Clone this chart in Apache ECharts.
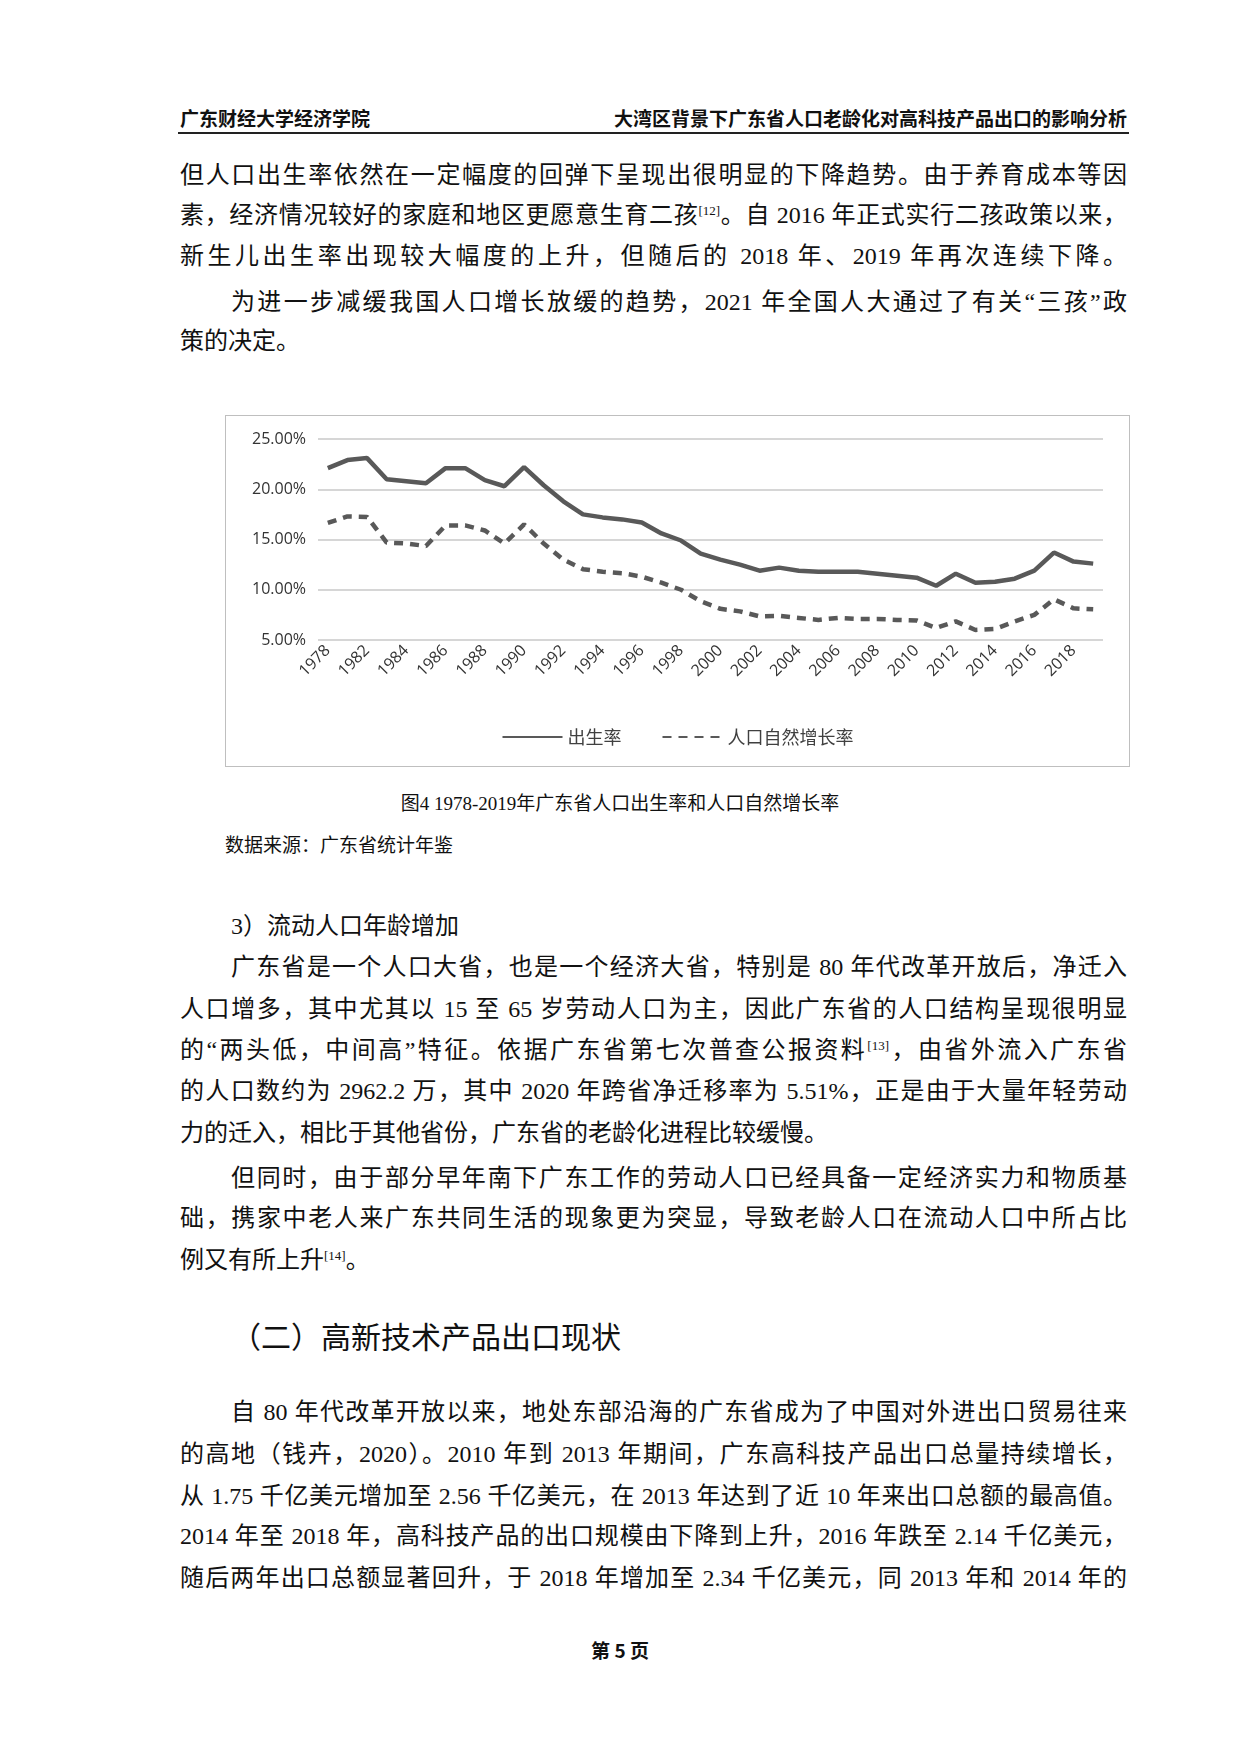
<!DOCTYPE html>
<html><head><meta charset="utf-8">
<script src="https://cdn.jsdelivr.net/npm/echarts@6/dist/echarts.min.js"></script>
<style>
body{margin:0;width:1240px;height:1754px;background:#fff;position:relative;font-family:"Liberation Serif","Noto Sans CJK SC",serif;color:#111}
.l{position:absolute;left:180px;width:947px;font-size:24px;line-height:30px;text-align:justify;text-align-last:justify;white-space:nowrap}
.s{text-align-last:left}
.hd{position:absolute;top:104px;font-size:19px;font-family:"Noto Sans CJK SC";font-weight:bold}
sup{font-size:13px;line-height:0;vertical-align:8px}
</style></head><body>
<div class="hd" style="left:180px">广东财经大学经济学院</div>
<div class="hd" style="right:113px">大湾区背景下广东省人口老龄化对高科技产品出口的影响分析</div>
<div style="position:absolute;left:178px;top:132px;width:951px;border-top:2px solid #222"></div>
<div class="l" style="top:160px">但人口出生率依然在一定幅度的回弹下呈现出很明显的下降趋势。由于养育成本等因</div>
<div class="l" style="top:200px">素，经济情况较好的家庭和地区更愿意生育二孩<sup>[12]</sup>。自 2016 年正式实行二孩政策以来，</div>
<div class="l" style="top:241px">新生儿出生率出现较大幅度的上升，但随后的 2018 年、2019 年再次连续下降。</div>
<div class="l" style="top:287px;left:231px;width:896px">为进一步减缓我国人口增长放缓的趋势，2021 年全国人大通过了有关“三孩”政</div>
<div class="l s" style="top:326px">策的决定。</div>
<div id="chart" style="position:absolute;left:225px;top:415px;width:903px;height:350px;border:1px solid #bfbfbf"></div>
<div style="position:absolute;left:0;width:1240px;top:788px;text-align:center;font-size:19px">图4 1978-2019年广东省人口出生率和人口自然增长率</div>
<div style="position:absolute;left:225px;top:830px;font-size:19px">数据来源：广东省统计年鉴</div>
<div class="l s" style="top:911px;left:231px">3）流动人口年龄增加</div>
<div class="l" style="top:952px;left:231px;width:896px">广东省是一个人口大省，也是一个经济大省，特别是 80 年代改革开放后，净迁入</div>
<div class="l" style="top:994px">人口增多，其中尤其以 15 至 65 岁劳动人口为主，因此广东省的人口结构呈现很明显</div>
<div class="l" style="top:1035px">的“两头低，中间高”特征。依据广东省第七次普查公报资料<sup>[13]</sup>，由省外流入广东省</div>
<div class="l" style="top:1076px">的人口数约为 2962.2 万，其中 2020 年跨省净迁移率为 5.51%，正是由于大量年轻劳动</div>
<div class="l s" style="top:1118px">力的迁入，相比于其他省份，广东省的老龄化进程比较缓慢。</div>
<div class="l" style="top:1163px;left:231px;width:896px">但同时，由于部分早年南下广东工作的劳动人口已经具备一定经济实力和物质基</div>
<div class="l" style="top:1203px">础，携家中老人来广东共同生活的现象更为突显，导致老龄人口在流动人口中所占比</div>
<div class="l s" style="top:1245px">例又有所上升<sup>[14]</sup>。</div>
<div class="l s" style="top:1315px;left:231px;font-size:30px;line-height:40px;font-family:'Noto Sans CJK SC'">（二）高新技术产品出口现状</div>
<div class="l" style="top:1397px;left:231px;width:896px">自 80 年代改革开放以来，地处东部沿海的广东省成为了中国对外进出口贸易往来</div>
<div class="l" style="top:1439px">的高地（钱卉，2020）。2010 年到 2013 年期间，广东高科技产品出口总量持续增长，</div>
<div class="l" style="top:1481px">从 1.75 千亿美元增加至 2.56 千亿美元，在 2013 年达到了近 10 年来出口总额的最高值。</div>
<div class="l" style="top:1521px">2014 年至 2018 年，高科技产品的出口规模由下降到上升，2016 年跌至 2.14 千亿美元，</div>
<div class="l" style="top:1563px">随后两年出口总额显著回升，于 2018 年增加至 2.34 千亿美元，同 2013 年和 2014 年的</div>
<div style="position:absolute;left:0;width:1240px;top:1636px;text-align:center;font-size:19px;font-weight:bold;font-family:'Noto Sans CJK SC'">第 5 页</div>
<script>
var years = ['1978','1981'];
for (var y = 1982; y <= 2019; y++) years.push(String(y));
var birthRate = [22.1,22.9,23.1,21.0,20.8,20.6,22.1,22.1,20.9,20.3,22.2,20.4,18.8,17.5,17.2,17.0,16.7,15.6,14.9,13.6,
  13.0,12.5,11.9,12.2,11.9,11.8,11.8,11.8,11.6,11.4,11.2,10.4,11.6,10.7,10.8,11.1,11.9,13.7,12.8,12.6];
var growthRate = [16.65,17.3,17.25,14.7,14.6,14.35,16.4,16.4,15.9,14.6,16.5,14.6,13.0,12.05,11.8,11.65,11.3,10.7,10.0,8.85,
  8.1,7.85,7.35,7.4,7.2,7.0,7.2,7.1,7.1,7.0,6.95,6.2,6.85,6.0,6.1,6.85,7.5,9.05,8.15,8.05];

var chart = echarts.init(document.getElementById('chart'));
chart.setOption({
  animation: false,
  textStyle: { fontFamily: 'Open Sans' },
  grid: { left: 92, right: 26, top: 23, bottom: 126 },
  legend: {
    top: 307, itemWidth: 60, itemHeight: 12, itemGap: 40,
    itemStyle: { opacity: 0 },
    textStyle: { fontSize: 18, color: '#404040', fontFamily: 'Noto Sans CJK SC' },
    data: ['出生率', '人口自然增长率']
  },
  xAxis: {
    type: 'category', data: years, boundaryGap: true,
    axisLine: { show: false }, axisTick: { show: false },
    axisLabel: { interval: 1, rotate: 45, fontSize: 16, color: '#333', margin: 8 }
  },
  yAxis: {
    type: 'value', min: 5, max: 25, interval: 5,
    axisLabel: { formatter: function (v) { return v.toFixed(2) + '%'; }, fontSize: 16, color: '#333', margin: 12 },
    splitLine: { lineStyle: { color: '#c8c8c8', width: 1.5 } }
  },
  series: [
    { name: '出生率', type: 'line', data: birthRate, symbol: 'none', lineStyle: { width: 4.5, color: '#595959' }, itemStyle: { color: '#595959' } },
    { name: '人口自然增长率', type: 'line', data: growthRate, symbol: 'none', lineStyle: { width: 4.5, color: '#595959', type: [9, 7] }, itemStyle: { color: '#595959' } }
  ]
});
</script>
</body></html>
